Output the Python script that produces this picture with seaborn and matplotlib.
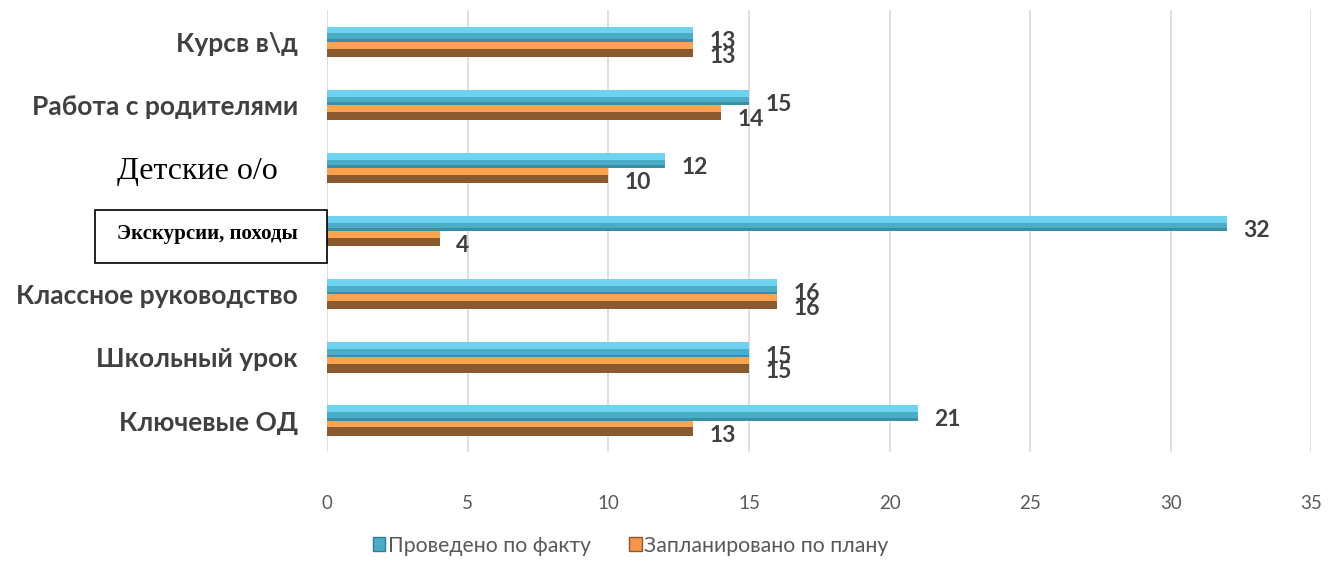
import pandas as pd
import matplotlib.pyplot as plt
import matplotlib.patches as mpatches
import matplotlib.transforms as mtransforms
import seaborn as sns

# Data
categories = ["Курсв в\\д", "Работа с родителями", "Детские о/о", "Экскурсии, походы",
              "Классное руководство", "Школьный урок", "Ключевые ОД"]
fact = [13, 15, 12, 32, 16, 15, 21]
plan = [13, 14, 10, 4, 16, 15, 13]
series = ["Проведено по факту", "Запланировано по плану"]
xticks = [0, 5, 10, 15, 20, 25, 30, 35]

df = pd.DataFrame({
    "Категория": categories * 2,
    "Серия": [series[0]] * len(categories) + [series[1]] * len(categories),
    "Значение": fact + plan,
})

blue = "#4BACC6"
orange = "#F79646"
label_gray = "#595959"
dark_gray = "#404040"

sns.set_style("white")
plt.rcParams["font.family"] = ["Lato", "DejaVu Sans"]

fig = plt.figure(figsize=(13.3, 5.68), dpi=100)
ax = fig.add_axes([0.246, 0.204, 0.74, 0.778])

sns.barplot(data=df, y="Категория", x="Значение", hue="Серия", orient="h",
            palette=[blue, orange], width=0.48, saturation=1, legend=False,
            linewidth=0, ax=ax)

# Fake the Excel bevel look with strips over each bar
bevel = {0: ("#6DD3F0", "#3A8EA5"), 1: ("#FBA34E", "#8A5A2E")}
for i, cont in enumerate(ax.containers):
    light, dark = bevel[i]
    for bar in cont:
        x, y = bar.get_x(), bar.get_y()
        w, h = bar.get_width(), bar.get_height()
        if i == 0:
            ax.add_patch(mpatches.Rectangle((x, y), w, h * 0.45, fc=light, ec="none", zorder=3))
            ax.add_patch(mpatches.Rectangle((x, y + h * 0.82), w, h * 0.18, fc=dark, ec="none", zorder=3))
        else:
            ax.add_patch(mpatches.Rectangle((x, y), w, h * 0.45, fc=light, ec="none", zorder=3))
            ax.add_patch(mpatches.Rectangle((x, y + h * 0.45), w, h * 0.55, fc=dark, ec="none", zorder=3))
        ax.annotate(f"{w:g}", xy=(w, y + h / 2), xytext=(12, -5), textcoords="offset points",
                    ha="left", va="center", fontsize=16.5, fontweight="bold", color=dark_gray)

ax.set_xlim(0, 35)
ax.set_xticks(xticks)
ax.set_xticklabels([str(t) for t in xticks])
ax.xaxis.grid(True, color="#D9D9D9", lw=1.2)
ax.set_axisbelow(True)
for s in ax.spines.values():
    s.set_visible(False)
ax.set_xlabel("")
ax.set_ylabel("")
ax.tick_params(axis="x", length=0, pad=31, labelsize=13.5, labelcolor=label_gray)
ax.tick_params(axis="y", length=0, pad=21)

for lab in ax.get_yticklabels():
    txt = lab.get_text()
    if txt == "Детские о/о":
        lab.set_fontfamily(["Liberation Serif"])
        lab.set_fontsize(23)
        lab.set_color("black")
        lab.set_transform(lab.get_transform() + mtransforms.ScaledTranslation(-0.2, 0, fig.dpi_scale_trans))
    elif txt == "Экскурсии, походы":
        lab.set_fontfamily(["Liberation Serif"])
        lab.set_fontsize(15)
        lab.set_fontweight("bold")
        lab.set_color("black")
    else:
        lab.set_fontsize(19)
        lab.set_fontweight("bold")
        lab.set_color(dark_gray)

# Box around the excursion label
fig.patches.append(mpatches.Rectangle((0.0714, 0.537), 0.1744, 0.0933, transform=fig.transFigure,
                                      fill=False, ec="black", lw=1.2))

handles = [mpatches.Patch(fc=blue, ec="#2F7F94"), mpatches.Patch(fc=orange, ec="#8B5A2B")]
fig.legend(handles, series, loc="lower center", bbox_to_anchor=(0.474, -0.012), ncol=2,
           frameon=False, fontsize=15.3, labelcolor=label_gray, handlelength=0.6,
           handleheight=0.6, handletextpad=0.1, columnspacing=1.8)

fig.savefig("out.png", dpi=100)
